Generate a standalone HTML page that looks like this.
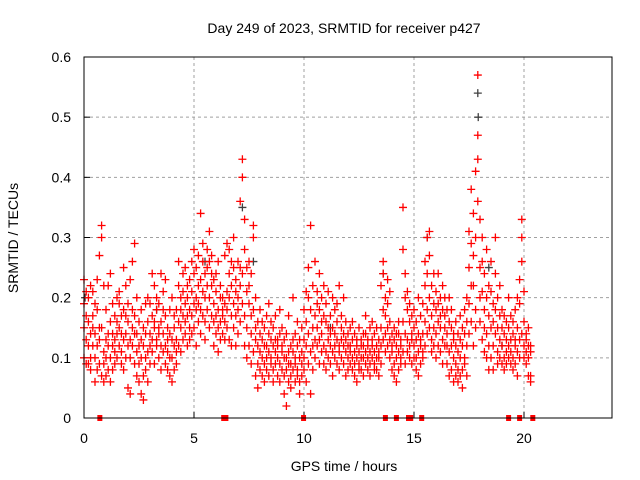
<!DOCTYPE html>
<html><head><meta charset="utf-8"><style>
html,body{margin:0;padding:0;background:#fff}
svg{display:block;font-family:"Liberation Sans",sans-serif}
</style></head><body>
<svg id="chart" width="640" height="480">
<text x="344" y="33" font-size="14" text-anchor="middle">Day 249 of 2023, SRMTID for receiver p427</text>
<text x="344" y="471" font-size="14" text-anchor="middle">GPS time / hours</text>
<text x="0" y="0" font-size="14" text-anchor="middle" transform="translate(18,238) rotate(-90)">SRMTID / TECUs</text>
<g id="grid"></g>
<g id="ticks"></g>
<g id="marks"></g>
<rect x="84" y="57" width="528" height="361" fill="none" stroke="#000" stroke-width="1"/>
</svg>
<script>
const xTicks=[0,5,10,15,20];
const yTicks=[0,0.1,0.2,0.3,0.4,0.5,0.6];
const yTickLabels=["0","0.1","0.2","0.3","0.4","0.5","0.6"];
const samples=[
[0.0,.23,.15,.10,.19],[0.1,.13,.21,.09,.17],[0.2,.12,.16,.20,.09],[0.3,.10,.22,.14,.08],[0.4,.17,.12,.21,.15],
[0.5,.19,.06,.14,.10],[0.6,.12,.18,.08,.23],[0.7,.15,.09,.27,.13],[0.8,.32,.30,.07,.15],[0.9,.06,.11,.22,.09],
[1.0,.18,.13,.07,.10],[1.1,.22,.08,.14,.12],[1.2,.16,.10,.24,.06],[1.3,.12,.19,.08,.14],[1.4,.13,.17,.11,.09],
[1.5,.20,.14,.10,.16],[1.6,.15,.12,.19,.21],[1.7,.17,.11,.14,.09],[1.8,.25,.13,.08,.18],[1.9,.10,.14,.22,.17],
[2.0,.12,.05,.16,.19],[2.1,.23,.04,.13,.10],[2.2,.18,.26,.12,.15],[2.3,.29,.17,.09,.14],[2.4,.14,.20,.11,.07],
[2.5,.12,.06,.16,.09],[2.6,.18,.04,.10,.13],[2.7,.07,.03,.15,.12],[2.8,.10,.19,.08,.14],[2.9,.20,.11,.06,.16],
[3.0,.14,.12,.19,.09],[3.1,.17,.11,.24,.13],[3.2,.22,.16,.09,.15],[3.3,.13,.12,.18,.20],[3.4,.19,.10,.14,.15],
[3.5,.16,.24,.12,.08],[3.6,.14,.18,.11,.21],[3.7,.12,.09,.17,.23],[3.8,.08,.15,.13,.11],[3.9,.18,.14,.10,.07],
[4.0,.10,.06,.20,.13],[4.1,.12,.15,.08,.17],[4.2,.13,.09,.18,.11],[4.3,.16,.12,.22,.26],[4.4,.20,.15,.11,.18],
[4.5,.21,.17,.13,.24],[4.6,.19,.25,.14,.16],[4.7,.20,.12,.17,.22],[4.8,.23,.15,.18,.13],[4.9,.17,.21,.14,.26],
[5.0,.19,.24,.15,.28],[5.1,.20,.12,.18,.25],[5.2,.27,.22,.16,.19],[5.3,.23,.34,.18,.14],[5.4,.21,.26,.17,.29],
[5.5,.24,.16,.20,.13],[5.6,.18,.28,.22,.25],[5.7,.26,.20,.31,.15],[5.8,.24,.27,.17,.22],[5.9,.19,.12,.23,.16],
[6.0,.17,.21,.14,.24],[6.1,.15,.18,.11,.26],[6.2,.20,.16,.22,.13],[6.3,.18,.14,.17,.20],[6.4,.16,.19,.13,.27],
[6.5,.21,.15,.29,.18],[6.6,.28,.13,.20,.24],[6.7,.22,.12,.17,.26],[6.8,.19,.25,.30,.15],[6.9,.23,.17,.12,.21],
[7.0,.26,.20,.14,.18],[7.1,.36,.22,.16,.25],[7.2,.43,.40,.24,.19],[7.3,.33,.17,.28,.12],[7.4,.21,.25,.15,.10],
[7.5,.26,.19,.12,.22],[7.6,.14,.24,.09,.17],[7.7,.30,.32,.11,.18],[7.8,.20,.13,.07,.15],[7.9,.16,.09,.12,.05],
[8.0,.11,.14,.08,.18],[8.1,.13,.10,.16,.07],[8.2,.09,.15,.12,.06],[8.3,.12,.08,.17,.10],[8.4,.14,.11,.07,.19],
[8.5,.10,.13,.09,.16],[8.6,.08,.12,.15,.06],[8.7,.11,.17,.09,.13],[8.8,.13,.07,.12,.10],[8.9,.09,.14,.06,.18],
[9.0,.12,.08,.15,.11],[9.1,.10,.04,.13,.07],[9.2,.08,.14,.10,.02],[9.3,.11,.06,.17,.09],[9.4,.07,.12,.09,.05],
[9.5,.13,.08,.20,.11],[9.6,.09,.14,.06,.10],[9.7,.12,.07,.16,.08],[9.8,.06,.10,.13,.04],[9.9,.11,.09,.15,.07],
[10.0,.13,.08,.18,.10],[10.1,.16,.12,.21,.06],[10.2,.20,.25,.14,.09],[10.3,.32,.18,.11,.04],[10.4,.12,.22,.08,.15],
[10.5,.17,.10,.26,.13],[10.6,.15,.21,.12,.19],[10.7,.18,.13,.24,.09],[10.8,.14,.20,.11,.16],[10.9,.12,.17,.09,.22],
[11.0,.16,.11,.19,.08],[11.1,.13,.21,.10,.15],[11.2,.17,.09,.14,.12],[11.3,.11,.15,.20,.07],[11.4,.14,.10,.18,.12],
[11.5,.19,.13,.09,.16],[11.6,.12,.22,.11,.08],[11.7,.15,.10,.17,.13],[11.8,.09,.14,.12,.20],[11.9,.13,.11,.16,.07],
[12.0,.10,.14,.08,.12],[12.1,.12,.09,.15,.11],[12.2,.08,.13,.10,.16],[12.3,.11,.07,.14,.09],[12.4,.13,.10,.12,.06],
[12.5,.09,.15,.11,.08],[12.6,.12,.08,.13,.10],[12.7,.10,.14,.07,.12],[12.8,.14,.09,.11,.17],[12.9,.08,.12,.10,.13],
[13.0,.11,.15,.09,.07],[13.1,.13,.10,.12,.16],[13.2,.09,.11,.14,.08],[13.3,.12,.08,.10,.15],[13.4,.10,.13,.07,.11],
[13.5,.15,.22,.12,.09],[13.6,.26,.18,.13,.24],[13.7,.14,.20,.11,.17],[13.8,.19,.12,.15,.23],[13.9,.16,.10,.21,.13],
[14.0,.11,.14,.08,.12],[14.1,.09,.13,.07,.15],[14.2,.12,.10,.14,.06],[14.3,.14,.08,.11,.16],[14.4,.10,.13,.09,.12],
[14.5,.35,.28,.16,.11],[14.6,.24,.14,.20,.09],[14.7,.13,.18,.11,.21],[14.8,.16,.12,.19,.10],[14.9,.14,.09,.17,.13],
[15.0,.12,.15,.10,.18],[15.1,.10,.13,.08,.16],[15.2,.14,.11,.20,.07],[15.3,.12,.17,.09,.13],[15.4,.11,.14,.10,.19],
[15.5,.22,.16,.12,.26],[15.6,.30,.24,.18,.14],[15.7,.20,.27,.15,.31],[15.8,.17,.13,.22,.11],[15.9,.15,.19,.12,.24],
[16.0,.18,.14,.21,.10],[16.1,.16,.12,.19,.24],[16.2,.20,.15,.11,.17],[16.3,.13,.18,.22,.09],[16.4,.17,.12,.15,.20],
[16.5,.14,.09,.18,.12],[16.6,.16,.20,.11,.07],[16.7,.12,.15,.08,.18],[16.8,.10,.14,.06,.13],[16.9,.09,.12,.16,.07],
[17.0,.11,.08,.14,.06],[17.1,.13,.10,.07,.17],[17.2,.08,.12,.05,.15],[17.3,.10,.14,.09,.18],[17.4,.12,.07,.16,.20],
[17.5,.31,.19,.14,.25],[17.6,.38,.29,.16,.22],[17.7,.34,.22,.12,.27],[17.8,.41,.30,.18,.15],[17.9,.57,.47,.43,.36],
[18.0,.33,.25,.16,.20],[18.1,.30,.21,.13,.26],[18.2,.24,.18,.11,.15],[18.3,.20,.28,.14,.10],[18.4,.17,.22,.12,.08],
[18.5,.21,.15,.26,.10],[18.6,.16,.12,.19,.08],[18.7,.30,.18,.14,.24],[18.8,.15,.11,.20,.09],[18.9,.13,.17,.10,.22],
[19.0,.12,.09,.15,.18],[19.1,.14,.10,.08,.17],[19.2,.11,.16,.09,.13],[19.3,.15,.12,.20,.10],[19.4,.13,.09,.17,.11],
[19.5,.10,.14,.08,.16],[19.6,.12,.18,.09,.13],[19.7,.15,.11,.20,.07],[19.8,.19,.13,.10,.23],[19.9,.33,.30,.26,.14],
[20.0,.21,.16,.12,.10],[20.1,.14,.11,.09,.13],[20.2,.12,.10,.07,.15],[20.3,.11,.07,.06,.12]
];
const zeroHours=[0.72,6.35,6.45,9.98,13.7,14.2,14.75,14.85,15.35,19.3,19.8,20.4];
const grayHours=[17.9,17.92,7.2,15.6,13.6,5.5,0.05,3.3,11.2,19.0,18.4,7.7];
const grayValues=[.54,.50,.35,.30,.24,.26,.20,.18,.15,.12,.25,.26];

const X0=84,X1=612,Y0=418,Y1=57,XMAX=24,YMAX=0.6;
function xs(h){return X0+(X1-X0)*h/XMAX;}
function ys(v){return Y0-(Y0-Y1)*v/YMAX;}
const NS="http://www.w3.org/2000/svg";
function mk(tag,attrs,parent){const e=document.createElementNS(NS,tag);for(const k in attrs)e.setAttribute(k,attrs[k]);parent.appendChild(e);return e;}
const grid=document.getElementById('grid'),ticks=document.getElementById('ticks'),marks=document.getElementById('marks');
xTicks.forEach(function(t){
  const x=xs(t);
  if(t>0){const g=mk('line',{x1:x,x2:x,y1:Y1,y2:Y0,stroke:'#a0a0a0','stroke-dasharray':'3,3'},grid);
  
  }
  const tk=mk('line',{x1:x,x2:x,y1:Y0,y2:Y0-6,stroke:'#000'},ticks);
  
  
  const lb=mk('text',{x:x,y:443,'font-size':14,'text-anchor':'middle'},ticks);lb.textContent=String(t);
  
  
});
yTicks.forEach(function(v,i){
  const y=ys(v);
  if(v>0){const g=mk('line',{x1:X0,x2:X1,y1:y,y2:y,stroke:'#a0a0a0','stroke-dasharray':'3,3'},grid);
  
  }
  const tk=mk('line',{x1:X0,x2:X0+6,y1:y,y2:y,stroke:'#000'},ticks);
  
  
  const lb=mk('text',{x:71,y:y+5,'font-size':14,'text-anchor':'end'},ticks);lb.textContent=yTickLabels[i];
  
  
});
function plus(h,v,color,name){
  const x=xs(h),y=ys(v);
  const p=mk('path',{d:'M'+(x-4)+' '+y+'H'+(x+4)+'M'+x+' '+(y-4)+'V'+(y+4),stroke:color,'stroke-width':1.3,fill:'none'},marks);
  
  
}
grayHours.forEach(function(h,i){plus(h,grayValues[i],'#404040','gray-point');});
samples.forEach(function(r){for(let k=1;k<r.length;k++)plus(r[0],r[k],'#ff0000','srmtid-point');});
zeroHours.forEach(function(h){
  const z=mk('rect',{x:xs(h)-2.5,y:Y0-3,width:5,height:6,fill:'#ff0000'},marks);
  
  
});
</script>
</body></html>
